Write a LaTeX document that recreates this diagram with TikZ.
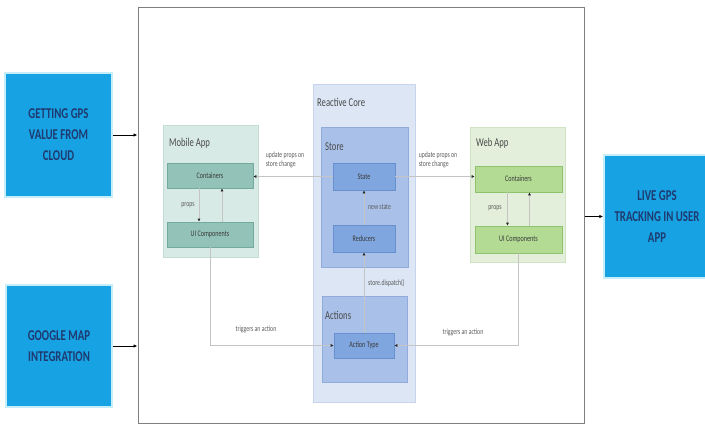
\documentclass[tikz,border=0pt]{standalone}
\usepackage{fontspec}
\setmainfont[FakeStretch=0.72]{Carlito}
\usetikzlibrary{arrows.meta}

\begin{document}
\begin{tikzpicture}[x=1pt,y=-1pt,
  ext/.style={fill=extBlue, draw=extGlow, line width=1.5pt, inner sep=0,
    align=center, text=extText, font=\fontsize{15}{21}\selectfont\bfseries},
  grp/.style 2 args={fill=#1, draw=#2, line width=0.6pt, inner sep=0},
  item/.style 2 args={fill=#1, draw=#2, line width=0.6pt, inner sep=0,
    text=itemText, font=\fontsize{8.5}{10}\selectfont},
  hdr/.style={anchor=west, inner sep=0, text=hdrGray, font=\fontsize{12}{14}\selectfont},
  lbl/.style={inner sep=0, align=left, text=lblGray, font=\fontsize{8}{9.5}\selectfont},
  link/.style={draw=lineGray, line width=0.7pt, -{Latex[length=3pt,width=3pt,color=tipDark]}},
  feed/.style={draw=black, line width=0.8pt, -{Latex[length=4pt,width=3.5pt]}}]

% Colori
\definecolor{extBlue}{HTML}{17A2E4}
\definecolor{extGlow}{HTML}{C6EDFA}
\definecolor{extText}{HTML}{1F3A6E}
\definecolor{frameGray}{HTML}{7F7F7F}
\definecolor{lineGray}{HTML}{C4C4C4}
\definecolor{tipDark}{HTML}{262626}
\definecolor{hdrGray}{HTML}{4A4A4A}
\definecolor{lblGray}{HTML}{5A5A5A}
\definecolor{itemText}{HTML}{3A3A3A}
\definecolor{mobBg}{HTML}{D8EAE5}
\definecolor{mobLine}{HTML}{C3DCD5}
\definecolor{mobItem}{HTML}{93C3B8}
\definecolor{mobItemLine}{HTML}{74AA9C}
\definecolor{coreBg}{HTML}{DCE6F5}
\definecolor{coreLine}{HTML}{C6D5ED}
\definecolor{storeBg}{HTML}{A9C1E8}
\definecolor{storeLine}{HTML}{91ABDB}
\definecolor{coreItem}{HTML}{7FA6DE}
\definecolor{coreItemLine}{HTML}{6890CF}
\definecolor{webBg}{HTML}{E3EFDB}
\definecolor{webLine}{HTML}{D0E3C4}
\definecolor{webItem}{HTML}{B3DB94}
\definecolor{webItemLine}{HTML}{8FC26C}

\useasboundingbox (0,0) rectangle (705,426);

% Blocchi esterni
\node[ext, minimum width=107, minimum height=124] (gps) at (58.5,135) {GETTING GPS\\VALUE FROM\\CLOUD};
\node[ext, minimum width=106, minimum height=122] (map) at (59,346) {GOOGLE MAP\\INTEGRATION};
\node[ext, minimum width=106, minimum height=123] (live) at (657,216.5) {LIVE GPS\\TRACKING IN USER\\APP};

% Cornice
\node[draw=frameGray, line width=1pt, inner sep=0, minimum width=446, minimum height=416] (frame) at (361,215) {};

\draw[feed] (gps.east) -- (gps.east -| frame.west);
\draw[feed] (map.east) -- (map.east -| frame.west);
\draw[feed] (live.west -| frame.east) -- (live.west);

% Mobile App
\node[grp={mobBg}{mobLine}, minimum width=95, minimum height=132] (mob) at (210.5,191) {};
\node[hdr] (mobT) at (169,143) {Mobile App};
\node[item={mobItem}{mobItemLine}, minimum width=86, minimum height=25] (mcont) at (210,175.5) {Containers};
\node[item={mobItem}{mobItemLine}, minimum width=86, minimum height=25] (mui) at (210,234.5) {UI Components};

% Reactive Core
\node[grp={coreBg}{coreLine}, minimum width=102, minimum height=318] (core) at (364,243) {};
\node[hdr] (coreT) at (317,102) {Reactive Core};
\node[grp={storeBg}{storeLine}, minimum width=87, minimum height=140] (store) at (364.5,197) {};
\node[hdr] (storeT) at (325,147) {Store};
\node[item={coreItem}{coreItemLine}, minimum width=62, minimum height=27] (state) at (364,176.5) {State};
\node[item={coreItem}{coreItemLine}, minimum width=62, minimum height=27] (red) at (364,238.5) {Reducers};
\node[grp={storeBg}{storeLine}, minimum width=85, minimum height=86] (acts) at (364.5,339) {};
\node[hdr] (actsT) at (325,315) {Actions};
\node[item={coreItem}{coreItemLine}, minimum width=60, minimum height=25] (atype) at (364,345.5) {Action Type};

% Web App
\node[grp={webBg}{webLine}, minimum width=95, minimum height=135] (web) at (517.5,194.5) {};
\node[hdr] (webT) at (476,143) {Web App};
\node[item={webItem}{webItemLine}, minimum width=87, minimum height=26] (wcont) at (518.5,179) {Containers};
\node[item={webItem}{webItemLine}, minimum width=87, minimum height=27] (wui) at (518.5,239.5) {UI Components};

% Collegamenti
\draw[link] ([xshift=-11pt]mcont.south) -- ([xshift=-11pt]mui.north);
\draw[link] ([xshift=12pt]mui.north) -- ([xshift=12pt]mcont.south);
\draw[link] ([xshift=-11pt]wcont.south) -- ([xshift=-11pt]wui.north);
\draw[link] ([xshift=11pt]wui.north) -- ([xshift=11pt]wcont.south);
\draw[link] (state.west) -- (state.west -| mcont.east);
\draw[link] (state.east) -- (state.east -| wcont.west);
\draw[link] (red.north) -- (state.south);
\draw[link] (atype.north) -- (red.south);
\draw[link] (mui.south) |- (atype.west);
\draw[link] (wui.south) |- (atype.east);

% Etichette
\node[lbl] (upL) at (285,160) {update props on\\store change};
\node[lbl] (upR) at (438,160) {update props on\\store change};
\node[lbl] (propsL) at (188,205) {props};
\node[lbl] (propsR) at (495,208) {props};
\node[lbl, anchor=west] (newst) at (368,207) {new state};
\node[lbl, anchor=west] (disp) at (368,283) {store.dispatch()};
\node[lbl] (trigL) at (256,329) {triggers an action};
\node[lbl] (trigR) at (463,332) {triggers an action};

\end{tikzpicture}
\end{document}
